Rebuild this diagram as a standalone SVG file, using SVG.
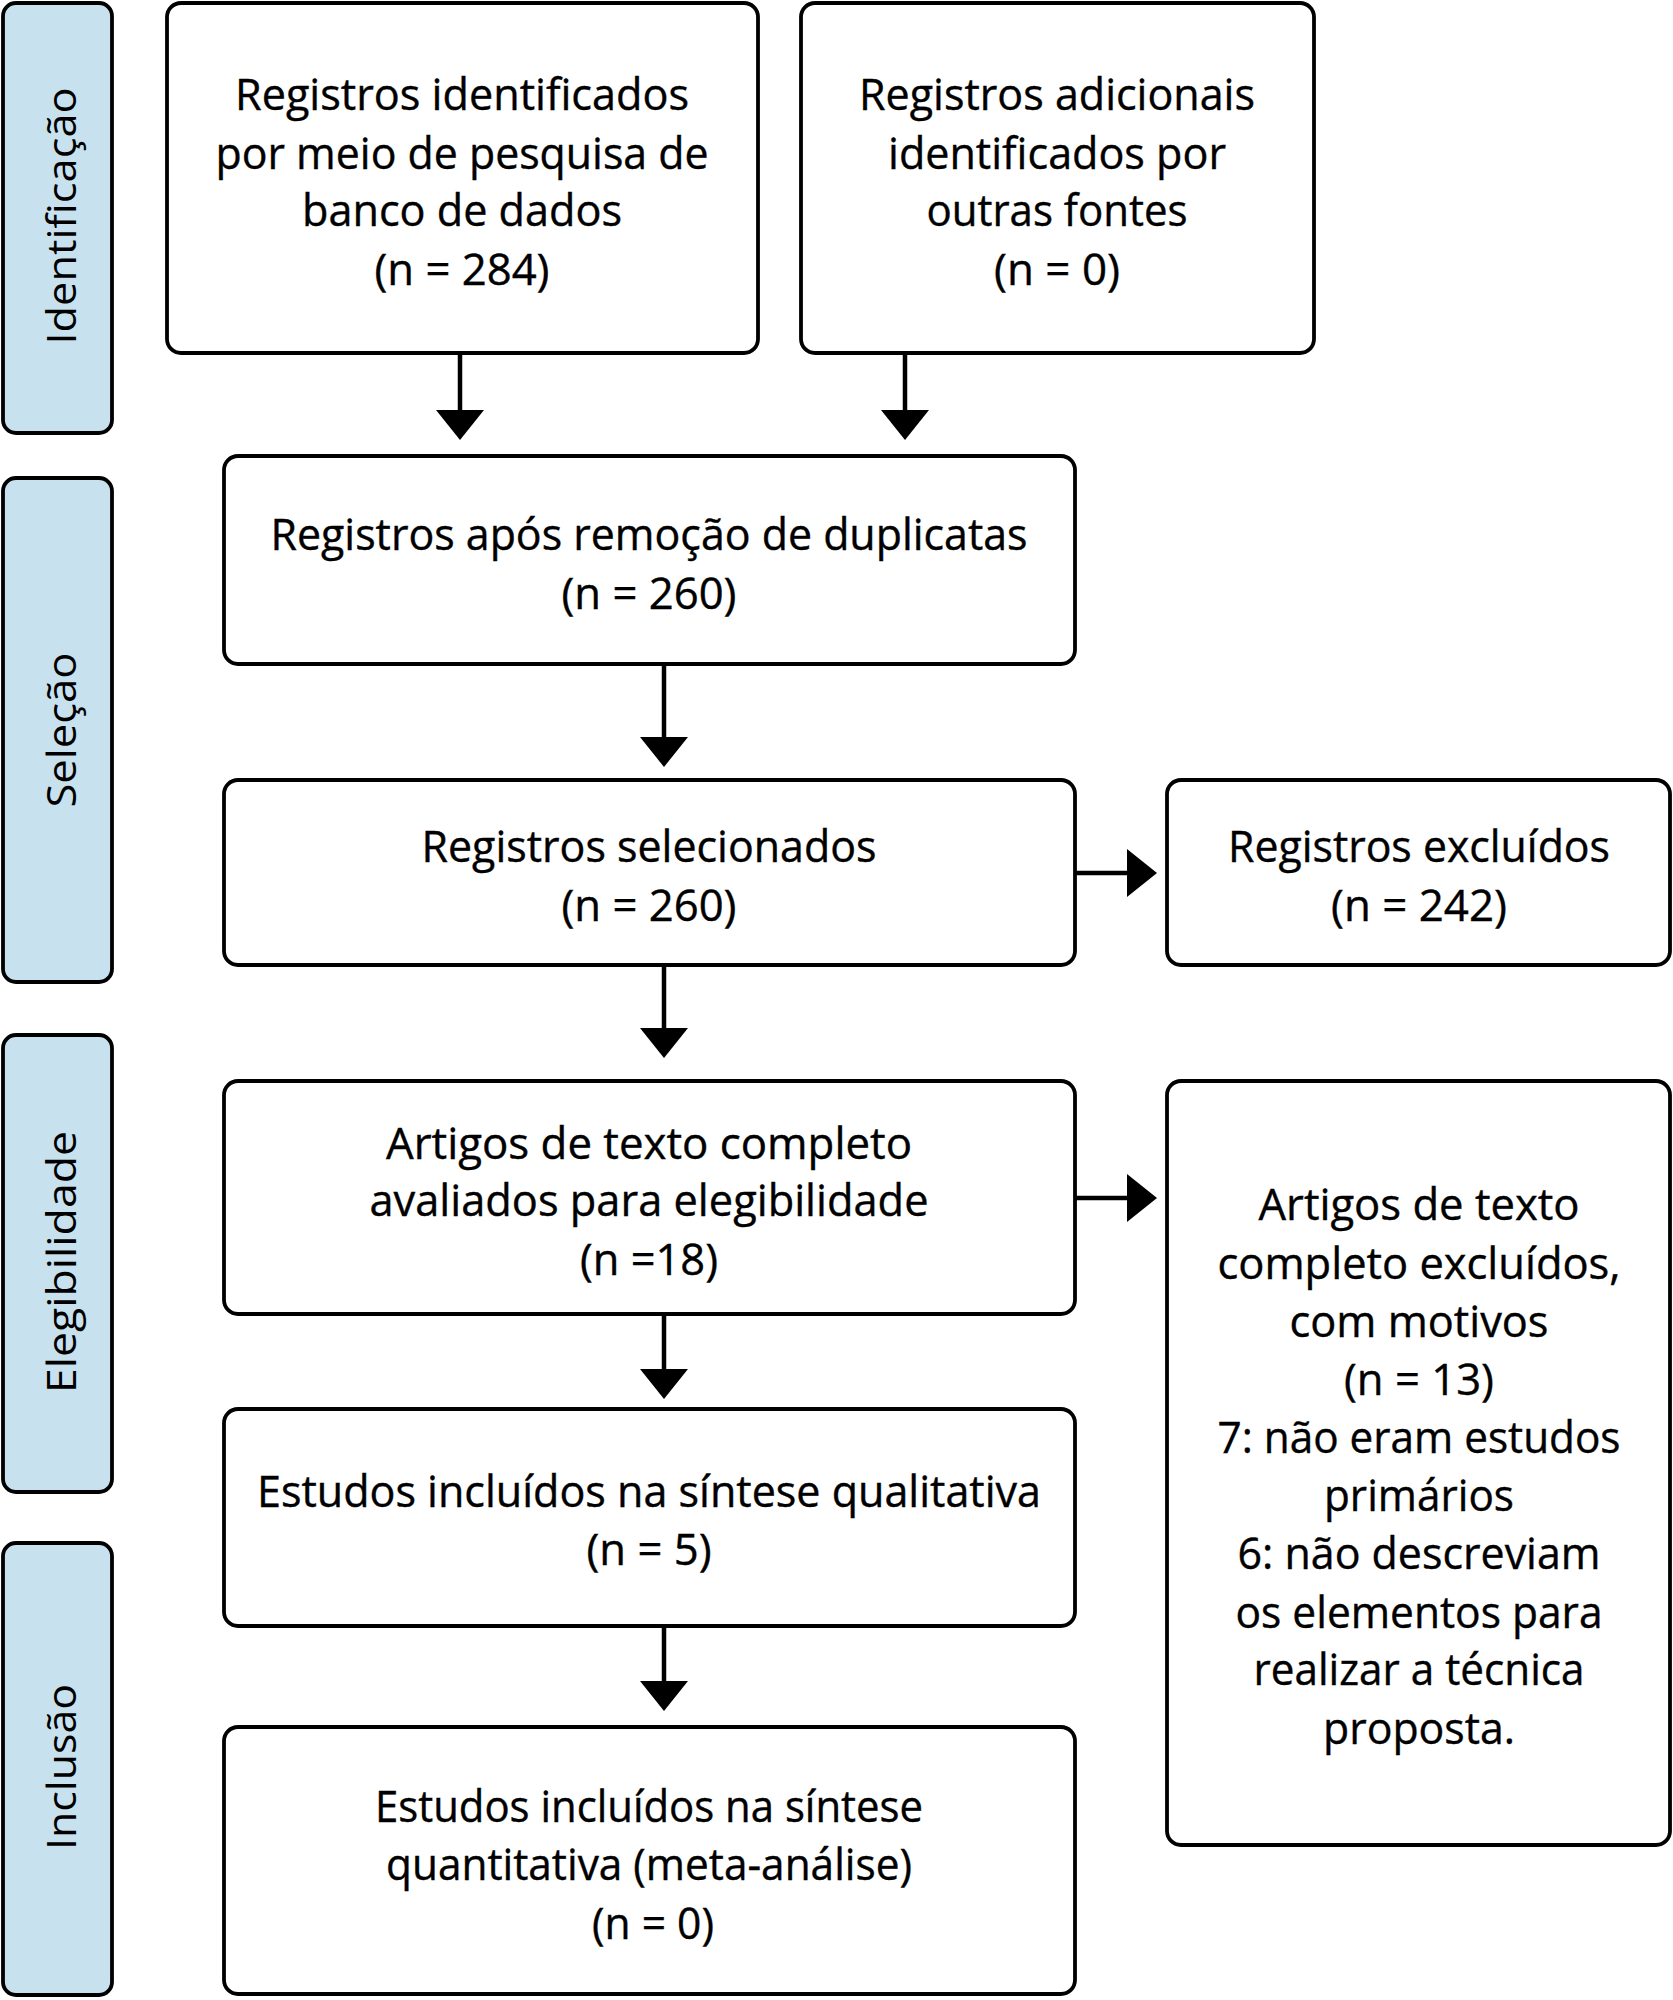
<svg xmlns="http://www.w3.org/2000/svg" width="1673" height="2000" viewBox="0 0 1673 2000">
<style>
.box{fill:#fff;stroke:#000;stroke-width:3.8}
.side{fill:#c8e1ee;stroke:#000;stroke-width:3.8}
.t{font-family:"Open Sans","Noto Sans","Liberation Sans",sans-serif;font-size:44px;fill:#000;text-anchor:middle;stroke:#000;stroke-width:0.4}
.s{font-family:"Open Sans","Noto Sans","Liberation Sans",sans-serif;font-size:40px;fill:#000;text-anchor:middle}
.ln{stroke:#000;stroke-width:4.5;fill:none}
.hd{fill:#000}
</style>
<rect width="1673" height="2000" fill="#fff"/>
<g id="side-identificacao"><rect class="side" x="3" y="3" width="109" height="430" rx="13"/><text class="s" transform="translate(76,216) rotate(-90)" textLength="257" lengthAdjust="spacingAndGlyphs">Identificação</text></g>
<g id="side-selecao"><rect class="side" x="3" y="478" width="109" height="504" rx="13"/><text class="s" transform="translate(76,730) rotate(-90)" textLength="155" lengthAdjust="spacingAndGlyphs">Seleção</text></g>
<g id="side-elegibilidade"><rect class="side" x="3" y="1035" width="109" height="457" rx="13"/><text class="s" transform="translate(76,1262) rotate(-90)" textLength="262" lengthAdjust="spacingAndGlyphs">Elegibilidade</text></g>
<g id="side-inclusao"><rect class="side" x="3" y="1543" width="109" height="452" rx="13"/><text class="s" transform="translate(76,1767) rotate(-90)" textLength="166" lengthAdjust="spacingAndGlyphs">Inclusão</text></g>

<g id="b1"><rect class="box" x="167" y="3" width="591" height="350" rx="14"/>
<text class="t" x="462" y="110" textLength="454" lengthAdjust="spacingAndGlyphs">Registros identificados</text>
<text class="t" x="462" y="169" textLength="493" lengthAdjust="spacingAndGlyphs">por meio de pesquisa de</text>
<text class="t" x="462" y="226" textLength="320" lengthAdjust="spacingAndGlyphs">banco de dados</text>
<text class="t" x="462" y="285" textLength="175" lengthAdjust="spacingAndGlyphs">(n = 284)</text></g>

<g id="b2"><rect class="box" x="801" y="3" width="513" height="350" rx="14"/>
<text class="t" x="1057" y="110" textLength="396" lengthAdjust="spacingAndGlyphs">Registros adicionais</text>
<text class="t" x="1057" y="169" textLength="338" lengthAdjust="spacingAndGlyphs">identificados por</text>
<text class="t" x="1057" y="226" textLength="261" lengthAdjust="spacingAndGlyphs">outras fontes</text>
<text class="t" x="1057" y="285" textLength="126" lengthAdjust="spacingAndGlyphs">(n = 0)</text></g>

<g id="b3"><rect class="box" x="224" y="456" width="851" height="208" rx="14"/>
<text class="t" x="649" y="550" textLength="757" lengthAdjust="spacingAndGlyphs">Registros após remoção de duplicatas</text>
<text class="t" x="649" y="609" textLength="175" lengthAdjust="spacingAndGlyphs">(n = 260)</text></g>

<g id="b4"><rect class="box" x="224" y="780" width="851" height="185" rx="14"/>
<text class="t" x="649" y="862" textLength="455" lengthAdjust="spacingAndGlyphs">Registros selecionados</text>
<text class="t" x="649" y="921" textLength="175" lengthAdjust="spacingAndGlyphs">(n = 260)</text></g>

<g id="b5"><rect class="box" x="1167" y="780" width="503" height="185" rx="14"/>
<text class="t" x="1419" y="862" textLength="382" lengthAdjust="spacingAndGlyphs">Registros excluídos</text>
<text class="t" x="1419" y="921" textLength="176" lengthAdjust="spacingAndGlyphs">(n = 242)</text></g>

<g id="b6"><rect class="box" x="224" y="1081" width="851" height="233" rx="14"/>
<text class="t" x="649" y="1159" textLength="526" lengthAdjust="spacingAndGlyphs">Artigos de texto completo</text>
<text class="t" x="649" y="1216" textLength="559" lengthAdjust="spacingAndGlyphs">avaliados para elegibilidade</text>
<text class="t" x="649" y="1275" textLength="138" lengthAdjust="spacingAndGlyphs">(n =18)</text></g>

<g id="b7"><rect class="box" x="1167" y="1081" width="503" height="764" rx="14"/>
<text class="t" x="1419" y="1220" textLength="321" lengthAdjust="spacingAndGlyphs">Artigos de texto</text>
<text class="t" x="1419" y="1279" textLength="403" lengthAdjust="spacingAndGlyphs">completo excluídos,</text>
<text class="t" x="1419" y="1337" textLength="259" lengthAdjust="spacingAndGlyphs">com motivos</text>
<text class="t" x="1419" y="1395" textLength="150" lengthAdjust="spacingAndGlyphs">(n = 13)</text>
<text class="t" x="1419" y="1453" textLength="403" lengthAdjust="spacingAndGlyphs">7: não eram estudos</text>
<text class="t" x="1419" y="1511" textLength="190" lengthAdjust="spacingAndGlyphs">primários</text>
<text class="t" x="1419" y="1569" textLength="363" lengthAdjust="spacingAndGlyphs">6: não descreviam</text>
<text class="t" x="1419" y="1628" textLength="367" lengthAdjust="spacingAndGlyphs">os elementos para</text>
<text class="t" x="1419" y="1685" textLength="331" lengthAdjust="spacingAndGlyphs">realizar a técnica</text>
<text class="t" x="1419" y="1744" textLength="192" lengthAdjust="spacingAndGlyphs">proposta.</text></g>

<g id="b8"><rect class="box" x="224" y="1409" width="851" height="217" rx="14"/>
<text class="t" x="649" y="1507" textLength="784" lengthAdjust="spacingAndGlyphs">Estudos incluídos na síntese qualitativa</text>
<text class="t" x="649" y="1565" textLength="125" lengthAdjust="spacingAndGlyphs">(n = 5)</text></g>

<g id="b9"><rect class="box" x="224" y="1727" width="851" height="267" rx="14"/>
<text class="t" x="649" y="1822" textLength="548" lengthAdjust="spacingAndGlyphs">Estudos incluídos na síntese</text>
<text class="t" x="649" y="1880" textLength="526" lengthAdjust="spacingAndGlyphs">quantitativa (meta-análise)</text>
<text class="t" x="653" y="1939" textLength="122" lengthAdjust="spacingAndGlyphs">(n = 0)</text></g>

<g id="connectors">
<line class="ln" x1="460" y1="353" x2="460" y2="412"/><path class="hd" d="M436,410 L484,410 L460,440 Z"/>
<line class="ln" x1="905" y1="353" x2="905" y2="412"/><path class="hd" d="M881,410 L929,410 L905,440 Z"/>
<line class="ln" x1="664" y1="664" x2="664" y2="739"/><path class="hd" d="M640,737 L688,737 L664,767 Z"/>
<line class="ln" x1="1075" y1="873" x2="1129" y2="873"/><path class="hd" d="M1127,849 L1127,897 L1157,873 Z"/>
<line class="ln" x1="664" y1="965" x2="664" y2="1030"/><path class="hd" d="M640,1028 L688,1028 L664,1058 Z"/>
<line class="ln" x1="1075" y1="1198" x2="1129" y2="1198"/><path class="hd" d="M1127,1174 L1127,1222 L1157,1198 Z"/>
<line class="ln" x1="664" y1="1314" x2="664" y2="1371"/><path class="hd" d="M640,1369 L688,1369 L664,1399 Z"/>
<line class="ln" x1="664" y1="1626" x2="664" y2="1683"/><path class="hd" d="M640,1681 L688,1681 L664,1711 Z"/>
</g>
</svg>
